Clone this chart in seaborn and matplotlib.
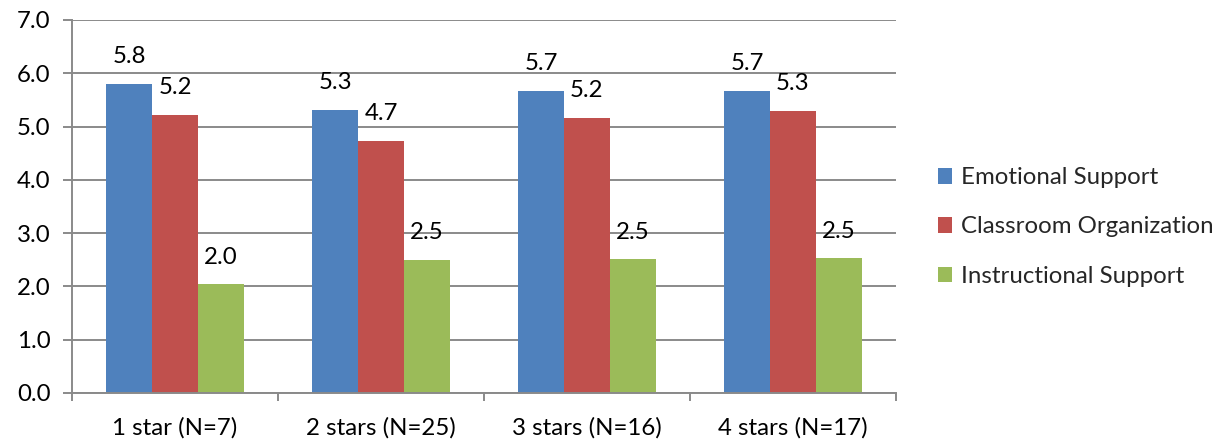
import matplotlib
matplotlib.use("Agg")
import matplotlib.pyplot as plt
import seaborn as sns
import pandas as pd

categories = ["1 star (N=7)", "2 stars (N=25)", "3 stars (N=16)", "4 stars (N=17)"]
series_names = ["Emotional Support", "Classroom Organization", "Instructional Support"]
emotional = [5.80, 5.31, 5.67, 5.67]
classroom = [5.22, 4.73, 5.16, 5.30]
instructional = [2.04, 2.50, 2.51, 2.53]
colors = ["#4F81BD", "#C0504D", "#9BBB59"]
y_ticks = [0.0, 1.0, 2.0, 3.0, 4.0, 5.0, 6.0, 7.0]

rows = []
for name, vals in zip(series_names, [emotional, classroom, instructional]):
    for cat, v in zip(categories, vals):
        rows.append({"Rating": cat, "Domain": name, "Score": v})
df = pd.DataFrame(rows)

sns.set_theme(style="white")
plt.rcParams["font.family"] = ["Lato", "DejaVu Sans"]
FS = 17.3

fig = plt.figure(figsize=(12.23, 4.42), dpi=100)
ax = fig.add_axes([0.0589, 0.1109, 0.6737, 0.8439])

sns.barplot(data=df, x="Rating", y="Score", hue="Domain", order=categories,
            hue_order=series_names, palette=colors, width=0.67, gap=0,
            saturation=1, linewidth=0, errorbar=None, ax=ax)

ax.set_ylim(0, 7)
ax.set_xlim(-0.5, len(categories) - 0.5)
ax.set_yticks(y_ticks)
ax.set_yticklabels([f"{t:.1f}" for t in y_ticks])
ax.set_xlabel("")
ax.set_ylabel("")

grid_c = "#8A8A8A"
ax.yaxis.grid(True, color=grid_c, linewidth=1.4)
ax.set_axisbelow(True)
for side in ["top", "right"]:
    ax.spines[side].set_visible(False)
for side in ["left", "bottom"]:
    ax.spines[side].set_color(grid_c)
    ax.spines[side].set_linewidth(1.4)

# category boundary ticks on the x axis
ax.set_xticks([i - 0.5 for i in range(len(categories) + 1)], minor=True)
ax.tick_params(axis="x", which="minor", length=6, width=1.4, color=grid_c, direction="out")
ax.tick_params(axis="x", which="major", length=0, labelsize=FS, pad=17, colors="black")
ax.tick_params(axis="y", which="major", length=6.5, width=1.4, color=grid_c, direction="out",
               labelsize=FS, pad=9, colors="black")
ax.tick_params(left=True, bottom=True, which="both")

# value labels above each bar
for container in ax.containers:
    for bar in container:
        h = bar.get_height()
        ax.annotate(f"{h:.1f}", xy=(bar.get_x() + bar.get_width() / 2, h),
                    xytext=(0, 19.5), textcoords="offset points",
                    ha="center", va="center", fontsize=FS, color="black")

handles, labels = ax.get_legend_handles_labels()
ax.legend(handles, labels, loc="center left", bbox_to_anchor=(1.039, 0.445),
          frameon=False, fontsize=FS, handlelength=0.6, handleheight=0.6,
          handletextpad=0.35, labelspacing=1.17, borderaxespad=0)

fig.savefig("out.png", dpi=100)
